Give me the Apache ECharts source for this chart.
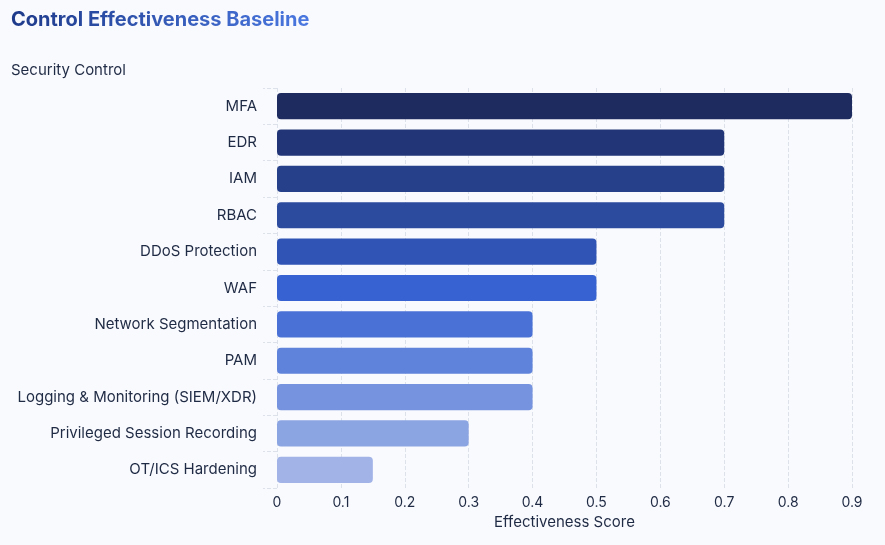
<!DOCTYPE html>
<html><head><meta charset="utf-8">
<script src="https://cdn.jsdelivr.net/npm/echarts@6/dist/echarts.min.js"></script>
<style>
body{margin:0;background:#f9fafd;font-family:Inter,sans-serif;}
#title{position:absolute;left:11px;top:7px;font-size:20px;font-weight:700;
 background:linear-gradient(90deg,#1e3a8a,#4a78e0);-webkit-background-clip:text;background-clip:text;color:transparent;}
#chart{width:885px;height:545px;}
</style></head><body>
<div id="title">Control Effectiveness Baseline</div>
<div id="chart"></div>
<script>
var categories = ['MFA','EDR','IAM','RBAC','DDoS Protection','WAF','Network Segmentation','PAM','Logging & Monitoring (SIEM/XDR)','Privileged Session Recording','OT/ICS Hardening'];
var scores = [0.9,0.7,0.7,0.7,0.5,0.5,0.4,0.4,0.4,0.3,0.15];
var colors = ['#1e2b5f','#223677','#26408a','#2c4b9e','#3054b5','#3762d1','#4a72d6','#5f83da','#7593de','#8ba4e2','#a1b3e7'];

var chart = echarts.init(document.getElementById('chart'));
chart.setOption({
  textStyle:{fontFamily:'Inter'},
  grid:{left:277,right:33,top:88,bottom:57},
  xAxis:{type:'value',min:0,max:0.9,interval:0.1,
    name:'Effectiveness Score',nameLocation:'middle',nameGap:27,
    nameTextStyle:{color:'#1f2a44',fontSize:15},
    axisLabel:{color:'#1f2a44',fontSize:14,formatter:function(v){return +v.toFixed(1);}},
    axisLine:{show:false},axisTick:{show:false},
    splitLine:{lineStyle:{type:'dashed',color:'#dde1ea'}}},
  yAxis:{type:'category',inverse:true,data:categories,
    name:'Security Control',nameLocation:'start',
    nameTextStyle:{color:'#1f2a44',fontSize:15,align:'left',padding:[0,0,0,-266]},
    nameGap:10,
    axisLabel:{color:'#1f2a44',fontSize:15,margin:20,width:250,overflow:'truncate'},
    axisLine:{show:false},axisTick:{show:true,length:14,lineStyle:{type:'dashed',color:'#dde1ea'}},
    splitLine:{show:false}},
  series:[{type:'bar',barWidth:'72%',
    data:scores.map(function(v,i){return {value:v,itemStyle:{color:colors[i],borderRadius:4}};})}]
});
</script></body></html>
